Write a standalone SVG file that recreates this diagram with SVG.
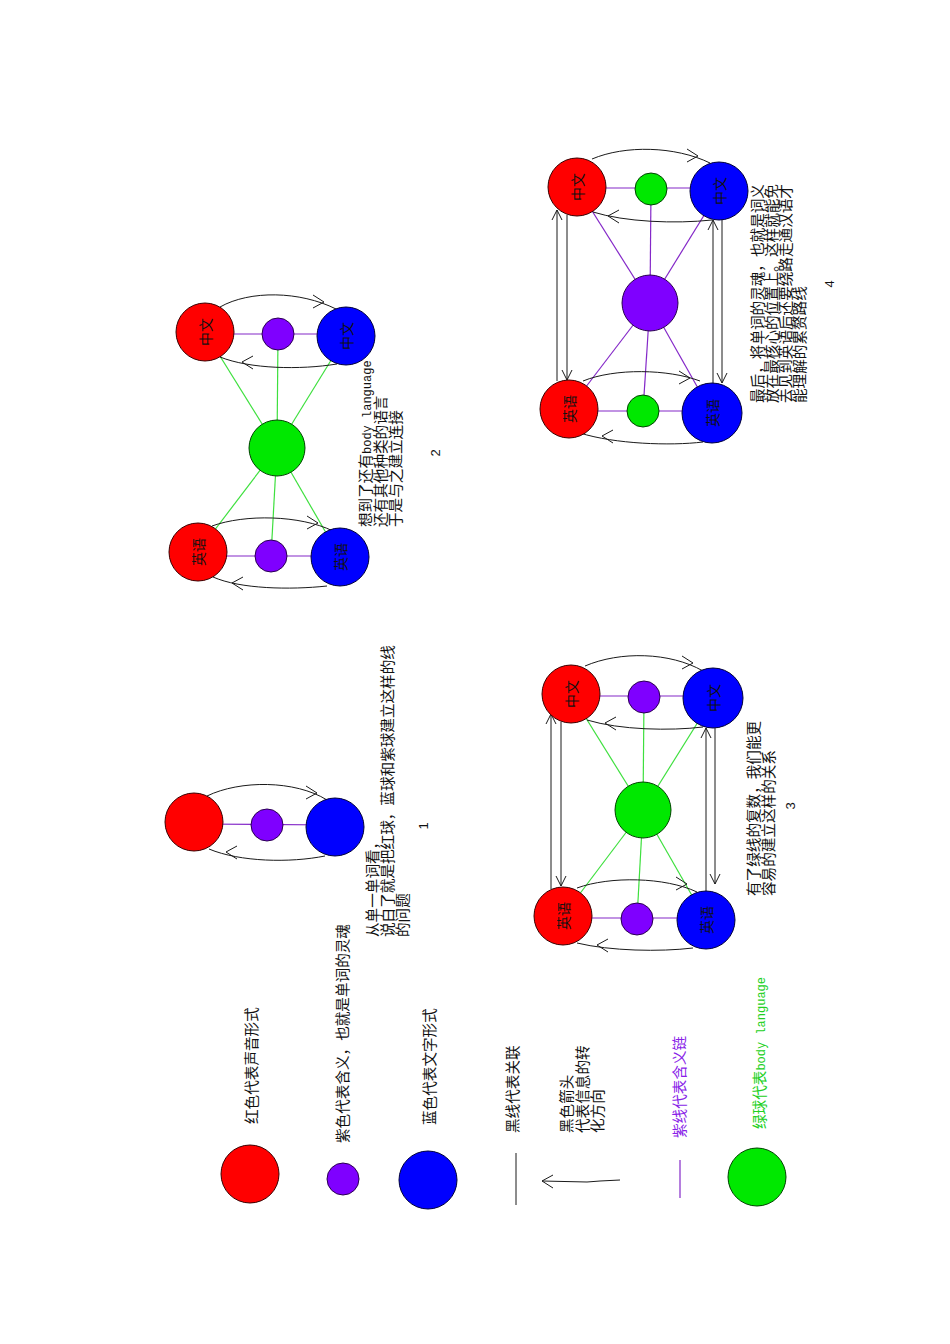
<svg xmlns="http://www.w3.org/2000/svg" xmlns:xlink="http://www.w3.org/1999/xlink" width="950" height="1344" viewBox="0 0 950 1344">
<style>
.bg{fill:#ffffff}
.red{fill:#ff0000;stroke:#3a0000;stroke-width:1}
.blue{fill:#0000ff;stroke:#00003a;stroke-width:1}
.pur{fill:#7f00ff;stroke:#2a0050;stroke-width:1}
.grn{fill:#00e800;stroke:#004400;stroke-width:1}
.arc{fill:none;stroke:#1a1a1a;stroke-width:1}
.ah{fill:none;stroke:#1a1a1a;stroke-width:1}
.pl{stroke:#8428c8;stroke-width:1.2}
.gl{stroke:#3ee03e;stroke-width:1.2}
.bl{stroke:#1a1a1a;stroke-width:1}
.t{font-family:"Noto Sans CJK SC","Liberation Sans",sans-serif;font-size:14.6px;fill:#111}
.lt{font-family:"Liberation Mono",monospace;font-size:12px}
.lbl{font-family:"Noto Sans CJK SC",sans-serif;font-size:14px;fill:#111;text-anchor:middle;dominant-baseline:central}
.num{font-family:"Liberation Sans",sans-serif;font-size:13px;fill:#111;text-anchor:middle;dominant-baseline:central}
</style>
<defs>
<path id="aR" d="M-11,-7 L0,0 L-11,6"/>
<path id="aL" d="M11,-6 L0,0 L11,7"/>
<path id="aU" d="M-5,10 L0,0 L5,10"/>
<path id="aD" d="M-5,-10 L0,0 L5,-10"/>
</defs>
<rect class="bg" x="0" y="0" width="950" height="1344"/>

<g id="connectors">
  <!-- diagram 1 -->
  <line class="pl" x1="194" y1="824" x2="335" y2="825"/>
  <path class="arc" d="M207,796 C240,780 295,780 327,800"/>
  <use class="ah" href="#aR" x="317" y="793"/>
  <path class="arc" d="M325,856 C290,863 240,862 209,849"/>
  <use class="ah" href="#aL" x="226" y="852"/>

  <!-- diagram 2 -->
  <line class="gl" x1="277" y1="448" x2="205" y2="332"/>
  <line class="gl" x1="277" y1="448" x2="278" y2="334"/>
  <line class="gl" x1="277" y1="448" x2="346" y2="336"/>
  <line class="gl" x1="277" y1="448" x2="198" y2="552"/>
  <line class="gl" x1="277" y1="448" x2="271" y2="556"/>
  <line class="gl" x1="277" y1="448" x2="340" y2="557"/>
  <line class="pl" x1="205" y1="334" x2="346" y2="334"/>
  <line class="pl" x1="198" y1="556" x2="340" y2="556"/>
  <path class="arc" d="M220,307 C250,290 300,291 336,309"/>
  <use class="ah" href="#aR" x="324" y="302"/>
  <path class="arc" d="M337,364 C300,370 250,369 220,357"/>
  <use class="ah" href="#aL" x="242" y="362"/>
  <path class="arc" d="M212,526 C245,514 300,515 333,531"/>
  <use class="ah" href="#aR" x="318" y="523"/>
  <path class="arc" d="M327,586 C290,590 240,589 213,577"/>
  <use class="ah" href="#aL" x="232" y="583"/>

  <!-- diagram 3 -->
  <line class="gl" x1="643" y1="810" x2="571" y2="694"/>
  <line class="gl" x1="643" y1="810" x2="644" y2="697"/>
  <line class="gl" x1="643" y1="810" x2="713" y2="698"/>
  <line class="gl" x1="643" y1="810" x2="563" y2="916"/>
  <line class="gl" x1="643" y1="810" x2="637" y2="919"/>
  <line class="gl" x1="643" y1="810" x2="706" y2="920"/>
  <line class="pl" x1="571" y1="696" x2="713" y2="696"/>
  <line class="pl" x1="563" y1="918" x2="706" y2="918"/>
  <path class="arc" d="M585,666 C620,651 670,652 703,671"/>
  <use class="ah" href="#aR" x="693" y="663"/>
  <path class="arc" d="M703,727 C670,731 620,730 587,720"/>
  <use class="ah" href="#aL" x="605" y="723"/>
  <path class="arc" d="M577,888 C610,876 665,877 697,892"/>
  <use class="ah" href="#aR" x="687" y="884"/>
  <path class="arc" d="M693,948 C660,952 610,951 577,943"/>
  <use class="ah" href="#aL" x="597" y="945"/>
  <line class="bl" x1="551" y1="714" x2="551" y2="889"/>
  <use class="ah" href="#aU" x="551" y="714"/>
  <line class="bl" x1="561" y1="722" x2="561" y2="886"/>
  <use class="ah" href="#aD" x="561" y="886"/>
  <line class="bl" x1="706" y1="728" x2="706" y2="891"/>
  <use class="ah" href="#aU" x="706" y="728"/>
  <line class="bl" x1="715" y1="728" x2="715" y2="884"/>
  <use class="ah" href="#aD" x="715" y="884"/>

  <!-- diagram 4 -->
  <line class="pl" x1="650" y1="303" x2="577" y2="187"/>
  <line class="pl" x1="650" y1="303" x2="651" y2="189"/>
  <line class="pl" x1="650" y1="303" x2="719" y2="191"/>
  <line class="pl" x1="650" y1="303" x2="569" y2="409"/>
  <line class="pl" x1="650" y1="303" x2="643" y2="411"/>
  <line class="pl" x1="650" y1="303" x2="712" y2="413"/>
  <line class="pl" x1="577" y1="188" x2="719" y2="188"/>
  <line class="pl" x1="569" y1="411" x2="712" y2="411"/>
  <path class="arc" d="M592,159 C625,145 675,146 710,163"/>
  <use class="ah" href="#aR" x="698" y="156"/>
  <path class="arc" d="M712,220 C675,224 625,222 593,212"/>
  <use class="ah" href="#aL" x="608" y="216"/>
  <path class="arc" d="M583,381 C615,368 668,369 700,381"/>
  <use class="ah" href="#aR" x="690" y="378"/>
  <path class="arc" d="M703,442 C670,446 615,444 580,433"/>
  <use class="ah" href="#aL" x="602" y="436"/>
  <line class="bl" x1="557" y1="210" x2="557" y2="381"/>
  <use class="ah" href="#aU" x="557" y="210"/>
  <line class="bl" x1="567" y1="215" x2="567" y2="380"/>
  <use class="ah" href="#aD" x="567" y="380"/>
  <line class="bl" x1="713" y1="220" x2="713" y2="384"/>
  <use class="ah" href="#aU" x="713" y="220"/>
  <line class="bl" x1="722" y1="218" x2="722" y2="383"/>
  <use class="ah" href="#aD" x="722" y="383"/>

  <!-- legend connectors -->
  <line class="bl" x1="516" y1="1153" x2="516" y2="1205"/>
  <path class="arc" d="M620,1180 L600,1181 L587,1182 L542,1181"/>
  <use class="ah" href="#aL" x="542" y="1181"/>
  <line class="pl" x1="680" y1="1160" x2="680" y2="1198"/>
</g>

<!-- diagram 1 nodes -->
<g id="d1-red"><circle class="red" cx="194" cy="822" r="29"/></g>
<g id="d1-purple"><circle class="pur" cx="267" cy="825" r="16"/></g>
<g id="d1-blue"><circle class="blue" cx="335" cy="827" r="29"/></g>
<g id="d1-text">
  <text class="t" transform="translate(378,937) rotate(-90)">从单一单词看，</text>
  <text class="t" transform="translate(393,937) rotate(-90)">说白了就是把红球，蓝球和紫球建立这样的线</text>
  <text class="t" transform="translate(408,937) rotate(-90)">的问题</text>
  <text class="num" transform="translate(423,826) rotate(-90)">1</text>
</g>

<!-- diagram 2 nodes -->
<g id="d2-red-zh"><circle class="red" cx="205" cy="332" r="29"/><text class="lbl" transform="translate(205,332) rotate(-90)">中文</text></g>
<g id="d2-purple-top"><circle class="pur" cx="278" cy="334" r="16"/></g>
<g id="d2-blue-zh"><circle class="blue" cx="346" cy="336" r="29"/><text class="lbl" transform="translate(346,336) rotate(-90)">中文</text></g>
<g id="d2-green"><circle class="grn" cx="277" cy="448" r="28"/></g>
<g id="d2-red-en"><circle class="red" cx="198" cy="552" r="29"/><text class="lbl" transform="translate(198,552) rotate(-90)">英语</text></g>
<g id="d2-purple-bottom"><circle class="pur" cx="271" cy="556" r="16"/></g>
<g id="d2-blue-en"><circle class="blue" cx="340" cy="557" r="29"/><text class="lbl" transform="translate(340,557) rotate(-90)">英语</text></g>
<g id="d2-text">
  <text class="t" transform="translate(371,527) rotate(-90)">想到了还有<tspan class="lt">body language</tspan></text>
  <text class="t" transform="translate(386,527) rotate(-90)">还有其他种类的语言</text>
  <text class="t" transform="translate(401,527) rotate(-90)">于是与之建立连接</text>
  <text class="num" transform="translate(435,453) rotate(-90)">2</text>
</g>

<!-- diagram 3 nodes -->
<g id="d3-red-zh"><circle class="red" cx="571" cy="694" r="29"/><text class="lbl" transform="translate(571,694) rotate(-90)">中文</text></g>
<g id="d3-purple-top"><circle class="pur" cx="644" cy="697" r="16"/></g>
<g id="d3-blue-zh"><circle class="blue" cx="713" cy="698" r="30"/><text class="lbl" transform="translate(713,698) rotate(-90)">中文</text></g>
<g id="d3-green"><circle class="grn" cx="643" cy="810" r="28"/></g>
<g id="d3-red-en"><circle class="red" cx="563" cy="916" r="29"/><text class="lbl" transform="translate(563,916) rotate(-90)">英语</text></g>
<g id="d3-purple-bottom"><circle class="pur" cx="637" cy="919" r="16"/></g>
<g id="d3-blue-en"><circle class="blue" cx="706" cy="920" r="29"/><text class="lbl" transform="translate(706,920) rotate(-90)">英语</text></g>
<g id="d3-text">
  <text class="t" transform="translate(759,896) rotate(-90)">有了绿线的复数，我们能更</text>
  <text class="t" transform="translate(774,896) rotate(-90)">容易的建立这样的关系</text>
  <text class="num" transform="translate(790,806) rotate(-90)">3</text>
</g>

<!-- diagram 4 nodes -->
<g id="d4-red-zh"><circle class="red" cx="577" cy="187" r="29"/><text class="lbl" transform="translate(577,187) rotate(-90)">中文</text></g>
<g id="d4-green-top"><circle class="grn" cx="651" cy="189" r="16"/></g>
<g id="d4-blue-zh"><circle class="blue" cx="719" cy="191" r="29"/><text class="lbl" transform="translate(719,191) rotate(-90)">中文</text></g>
<g id="d4-purple"><circle class="pur" cx="650" cy="303" r="28"/></g>
<g id="d4-red-en"><circle class="red" cx="569" cy="409" r="29"/><text class="lbl" transform="translate(569,409) rotate(-90)">英语</text></g>
<g id="d4-green-bottom"><circle class="grn" cx="643" cy="411" r="16"/></g>
<g id="d4-blue-en"><circle class="blue" cx="712" cy="413" r="30"/><text class="lbl" transform="translate(712,413) rotate(-90)">英语</text></g>
<g id="d4-text">
  <text class="t" transform="translate(763,403) rotate(-90)">最后，将单词的灵魂，也就是词义</text>
  <text class="t" transform="translate(777,403) rotate(-90)">放在最核心的位置上。这样就能免</text>
  <text class="t" transform="translate(791,403) rotate(-90)">去见到英语后还要绕路走通汉语才</text>
  <text class="t" transform="translate(805,403) rotate(-90)">能理解的累赘路线</text>
  <text class="num" transform="translate(829,284) rotate(-90)">4</text>
</g>

<!-- legend -->
<g id="legend-red"><circle class="red" cx="250" cy="1174" r="29"/><text class="t" transform="translate(257,1124) rotate(-90)">红色代表声音形式</text></g>
<g id="legend-purple"><circle class="pur" cx="343" cy="1179" r="16"/><text class="t" transform="translate(348,1143) rotate(-90)">紫色代表含义，也就是单词的灵魂</text></g>
<g id="legend-blue"><circle class="blue" cx="428" cy="1180" r="29"/><text class="t" transform="translate(435,1125) rotate(-90)">蓝色代表文字形式</text></g>
<g id="legend-blackline"><text class="t" transform="translate(518,1133) rotate(-90)">黑线代表关联</text></g>
<g id="legend-arrow">
  <text class="t" transform="translate(572,1133) rotate(-90)">黑色箭头</text>
  <text class="t" transform="translate(588,1133) rotate(-90)">代表信息的转</text>
  <text class="t" transform="translate(603,1133) rotate(-90)">化方向</text>
</g>
<g id="legend-purpleline"><text class="t" style="fill:#8a1ee8" transform="translate(685,1138) rotate(-90)">紫线代表含义链</text></g>
<g id="legend-green"><circle class="grn" cx="757" cy="1177" r="29"/><text class="t" style="fill:#22d022" transform="translate(765,1129) rotate(-90)">绿球代表<tspan class="lt">body language</tspan></text></g>
</svg>
